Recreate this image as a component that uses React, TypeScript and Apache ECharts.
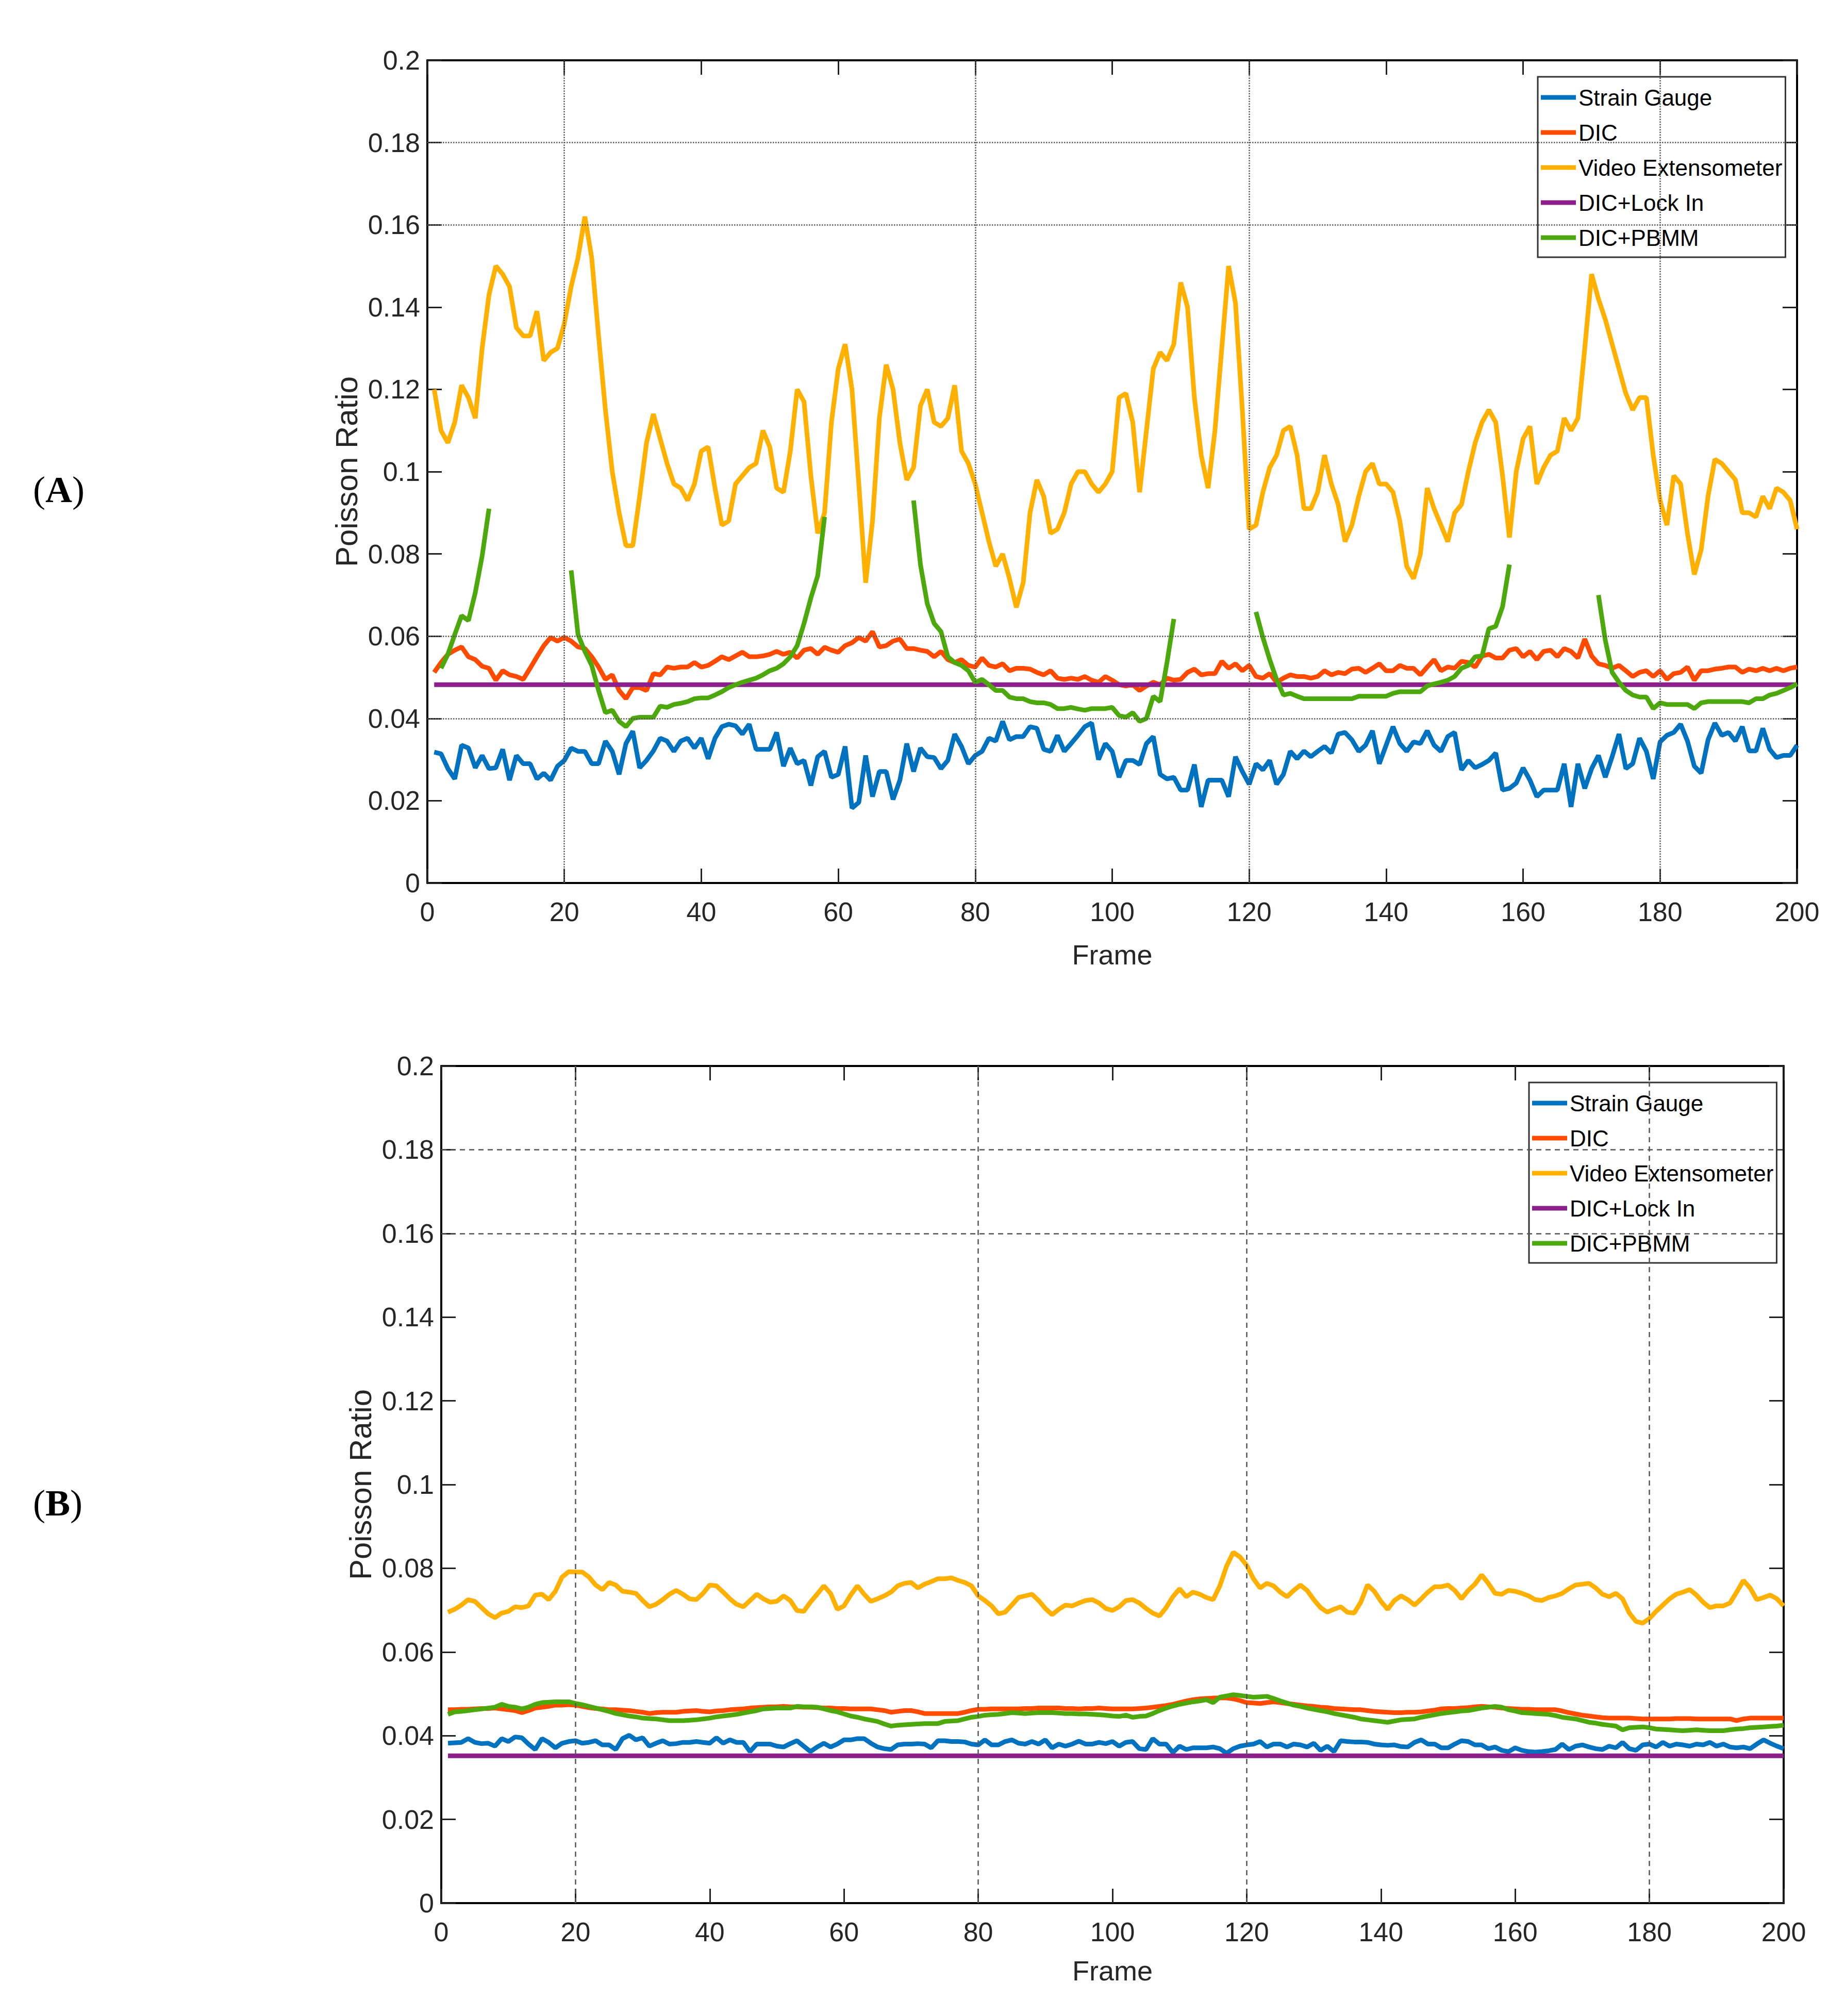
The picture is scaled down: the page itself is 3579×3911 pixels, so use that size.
import React, { useRef, useEffect } from 'react';
import * as echarts from 'echarts';

// ---- data (Poisson ratio per frame) ----
const SERIES_NAMES = ['Strain Gauge', 'DIC', 'Video Extensometer', 'DIC+Lock In', 'DIC+PBMM'];
const COLORS = ['#0072C0', '#FF4A00', '#FFB000', '#8B1F8B', '#4DA80E'];

const X_TICKS = { min: 0, max: 200, interval: 20 };
const Y_TICKS = { min: 0, max: 0.2, interval: 0.02 };

// gridlines that survived in the exported figure
const A_HGRID = [0.18, 0.16, 0.06, 0.04];
const A_VGRID = [20, 80, 120, 180];
const B_HGRID = [0.18, 0.16];
const B_VGRID = [20, 80, 120, 180];

// ---- panel A ----
const A_STRAIN = [
  .0318, .0314, .0278, .0253, .0335, .0328, .0280, .0310, .0278, .0280,
  .0325, .0250, .0310, .0290, .0290, .0253, .0267, .0250, .0284, .0298,
  .0328, .0320, .0320, .0290, .0290, .0345, .0320, .0264, .0339, .0369,
  .0280, .0298, .0321, .0352, .0345, .0320, .0345, .0352, .0328, .0352,
  .0302, .0352, .0380, .0386, .0382, .0362, .0386, .0325, .0325, .0325,
  .0366, .0284, .0328, .0290, .0298, .0237, .0307, .0320, .0257, .0264,
  .0332, .0182, .0196, .0310, .0210, .0271, .0271, .0203, .0250, .0339,
  .0271, .0328, .0307, .0305, .0278, .0298, .0362, .0332, .0290, .0310,
  .0320, .0352, .0345, .0393, .0348, .0356, .0356, .0380, .0376, .0325,
  .0320, .0359, .0320, .0339, .0359, .0380, .0389, .0300, .0339, .0320,
  .0257, .0298, .0298, .0288, .0339, .0356, .0264, .0253, .0257, .0226,
  .0226, .0288, .0185, .0250, .0250, .0250, .0210, .0307, .0271, .0240,
  .0290, .0275, .0298, .0240, .0264, .0320, .0302, .0321, .0307, .0320,
  .0332, .0316, .0362, .0366, .0348, .0320, .0335, .0370, .0290, .0335,
  .0380, .0339, .0320, .0343, .0339, .0370, .0335, .0320, .0356, .0366,
  .0275, .0298, .0280, .0288, .0298, .0316, .0226, .0230, .0243, .0280,
  .0250, .0210, .0226, .0226, .0226, .0290, .0185, .0290, .0230, .0278,
  .0310, .0257, .0307, .0362, .0278, .0290, .0352, .0320, .0253, .0343,
  .0359, .0366, .0386, .0345, .0284, .0267, .0348, .0389, .0359, .0366,
  .0345, .0380, .0321, .0321, .0376, .0325, .0305, .0310, .0310, .0335,
];
const A_DIC = [
  .0512, .0536, .0556, .0566, .0574, .0550, .0543, .0527, .0522, .0493,
  .0516, .0506, .0502, .0495, .0522, .0550, .0577, .0597, .0588, .0597,
  .0588, .0574, .0570, .0550, .0525, .0495, .0506, .0468, .0448, .0475,
  .0475, .0468, .0509, .0506, .0525, .0522, .0525, .0525, .0536, .0525,
  .0529, .0539, .0550, .0543, .0552, .0561, .0550, .0550, .0552, .0556,
  .0563, .0556, .0561, .0547, .0566, .0570, .0556, .0573, .0566, .0561,
  .0577, .0584, .0597, .0588, .0611, .0574, .0577, .0588, .0593, .0570,
  .0570, .0566, .0563, .0550, .0563, .0543, .0536, .0543, .0529, .0525,
  .0547, .0529, .0525, .0533, .0516, .0522, .0522, .0520, .0512, .0506,
  .0516, .0498, .0495, .0498, .0495, .0502, .0493, .0488, .0502, .0493,
  .0482, .0479, .0482, .0468, .0479, .0488, .0482, .0498, .0493, .0495,
  .0512, .0520, .0506, .0509, .0509, .0539, .0522, .0533, .0516, .0529,
  .0502, .0498, .0509, .0488, .0498, .0506, .0502, .0502, .0498, .0502,
  .0516, .0506, .0512, .0509, .0520, .0522, .0512, .0522, .0533, .0516,
  .0516, .0529, .0522, .0522, .0506, .0525, .0543, .0516, .0525, .0522,
  .0539, .0536, .0525, .0552, .0556, .0547, .0547, .0566, .0570, .0550,
  .0563, .0543, .0563, .0566, .0550, .0570, .0563, .0547, .0593, .0552,
  .0533, .0529, .0522, .0529, .0516, .0502, .0512, .0516, .0502, .0516,
  .0495, .0509, .0512, .0525, .0493, .0516, .0516, .0520, .0522, .0525,
  .0525, .0512, .0520, .0516, .0522, .0516, .0522, .0516, .0522, .0525,
];
const A_VIDEO = [
  .120, .110, .107, .112, .121, .118, .113, .130, .143, .150,
  .148, .145, .135, .133, .133, .139, .127, .129, .130, .136,
  .145, .152, .162, .152, .133, .115, .100, .090, .082, .082,
  .094, .107, .114, .108, .102, .097, .096, .093, .097, .105,
  .106, .096, .087, .088, .097, .099, .101, .102, .110, .106,
  .096, .095, .105, .120, .117, .099, .085, .090, .112, .125,
  .131, .120, .097, .073, .088, .113, .126, .120, .107, .098,
  .101, .116, .120, .112, .111, .113, .121, .105, .102, .097,
  .090, .083, .077, .080, .074, .067, .073, .090, .098, .094,
  .085, .086, .090, .097, .100, .100, .097, .095, .097, .100,
  .118, .119, .112, .095, .110, .125, .129, .127, .131, .146,
  .140, .118, .104, .096, .110, .130, .150, .141, .115, .086,
  .087, .095, .101, .104, .110, .111, .104, .091, .091, .095,
  .104, .097, .092, .083, .087, .094, .100, .102, .097, .097,
  .095, .088, .077, .074, .080, .096, .091, .087, .083, .090,
  .092, .100, .107, .112, .115, .112, .099, .084, .100, .108,
  .111, .097, .101, .104, .105, .113, .110, .113, .130, .148,
  .142, .137, .131, .125, .119, .115, .118, .118, .104, .093,
  .087, .099, .097, .085, .075, .081, .094, .103, .102, .100,
  .098, .090, .090, .089, .094, .091, .096, .095, .093, .086,
];
const A_LOCKIN = [[1, 0.0482], [200, 0.0482]];
const A_PBMM = [
  null, .0522, .0556, .0604, .0650, .0638, .0706, .0795, .0910, null,
  null, null, null, null, null, null, null, null, null, null,
  .0760, .0604, .0563, .0529, .0468, .0414, .0420, .0393, .0380, .0400,
  .0403, .0403, .0403, .0430, .0427, .0434, .0437, .0441, .0448, .0450,
  .0450, .0457, .0465, .0475, .0482, .0488, .0493, .0498, .0506, .0516,
  .0522, .0533, .0550, .0577, .0631, .0693, .0747, .0890, null, null,
  null, null, null, null, null, null, null, null, null, null,
  .0930, .0774, .0679, .0631, .0611, .0550, .0536, .0529, .0516, .0488,
  .0495, .0482, .0468, .0468, .0452, .0448, .0448, .0441, .0438, .0438,
  .0434, .0424, .0424, .0427, .0423, .0420, .0424, .0424, .0424, .0427,
  .0407, .0403, .0414, .0393, .0400, .0454, .0441, .0536, .0642, null,
  null, null, null, null, null, null, null, null, null, null,
  .0659, .0597, .0543, .0495, .0457, .0461, .0454, .0448, .0448, .0448,
  .0448, .0448, .0448, .0448, .0448, .0454, .0454, .0454, .0454, .0454,
  .0461, .0465, .0465, .0465, .0465, .0479, .0484, .0488, .0493, .0502,
  .0522, .0529, .0550, .0552, .0618, .0624, .0672, .0774, null, null,
  null, null, null, null, null, null, null, null, null, null,
  .0700, .0590, .0512, .0488, .0468, .0457, .0452, .0452, .0424, .0438,
  .0434, .0434, .0434, .0434, .0424, .0438, .0441, .0441, .0441, .0441,
  .0441, .0441, .0438, .0448, .0448, .0457, .0461, .0468, .0475, .0484,
];

// ---- panel B ----
const B_STRAIN = [
  .0382, .0383, .0384, .0393, .0384, .0381, .0382, .0375, .0393, .0386,
  .0397, .0395, .0380, .0367, .0393, .0384, .0371, .0382, .0386, .0388,
  .0382, .0384, .0388, .0378, .0378, .0367, .0393, .0401, .0390, .0395,
  .0375, .0382, .0388, .0380, .0381, .0384, .0384, .0386, .0384, .0382,
  .0395, .0382, .0390, .0384, .0384, .0362, .0380, .0380, .0380, .0375,
  .0373, .0381, .0388, .0375, .0362, .0373, .0382, .0373, .0380, .0390,
  .0390, .0393, .0393, .0382, .0373, .0369, .0367, .0378, .0380, .0380,
  .0381, .0380, .0371, .0388, .0388, .0386, .0386, .0385, .0380, .0378,
  .0390, .0378, .0378, .0386, .0390, .0382, .0380, .0386, .0380, .0390,
  .0371, .0380, .0375, .0380, .0387, .0380, .0380, .0384, .0381, .0386,
  .0375, .0384, .0386, .0369, .0367, .0393, .0380, .0380, .0360, .0375,
  .0367, .0371, .0371, .0371, .0373, .0369, .0358, .0369, .0375, .0378,
  .0380, .0386, .0373, .0380, .0380, .0373, .0380, .0378, .0373, .0382,
  .0365, .0375, .0362, .0388, .0386, .0385, .0385, .0384, .0380, .0378,
  .0377, .0378, .0374, .0373, .0384, .0390, .0380, .0380, .0371, .0371,
  .0380, .0388, .0386, .0378, .0378, .0369, .0373, .0365, .0362, .0371,
  .0365, .0362, .0361, .0362, .0364, .0367, .0380, .0367, .0375, .0378,
  .0373, .0369, .0367, .0375, .0371, .0384, .0369, .0365, .0378, .0380,
  .0373, .0384, .0375, .0380, .0378, .0375, .0380, .0378, .0384, .0375,
  .0380, .0373, .0371, .0373, .0369, .0380, .0390, .0382, .0375, .0369,
];
const B_DIC = [
  .0462, .0462, .0463, .0463, .0464, .0465, .0465, .0466, .0464, .0462,
  .0460, .0455, .0460, .0466, .0468, .0470, .0473, .0473, .0474, .0473,
  .0470, .0467, .0465, .0464, .0462, .0462, .0461, .0460, .0458, .0456,
  .0453, .0455, .0456, .0456, .0456, .0458, .0459, .0460, .0458, .0457,
  .0459, .0460, .0462, .0463, .0464, .0466, .0467, .0468, .0469, .0469,
  .0470, .0469, .0469, .0468, .0468, .0467, .0466, .0466, .0465, .0465,
  .0464, .0464, .0464, .0464, .0462, .0460, .0456, .0458, .0460, .0460,
  .0457, .0453, .0453, .0453, .0453, .0453, .0453, .0456, .0460, .0463,
  .0463, .0464, .0464, .0464, .0464, .0464, .0465, .0465, .0466, .0466,
  .0466, .0466, .0465, .0465, .0464, .0465, .0465, .0466, .0465, .0464,
  .0464, .0464, .0464, .0465, .0466, .0468, .0470, .0472, .0475, .0479,
  .0483, .0486, .0488, .0489, .0490, .0490, .0490, .0488, .0484, .0479,
  .0478, .0477, .0479, .0481, .0479, .0477, .0475, .0473, .0471, .0470,
  .0468, .0467, .0465, .0464, .0463, .0462, .0462, .0460, .0458, .0457,
  .0456, .0455, .0455, .0456, .0456, .0457, .0459, .0461, .0464, .0465,
  .0465, .0466, .0467, .0469, .0470, .0469, .0468, .0466, .0465, .0464,
  .0463, .0463, .0462, .0462, .0462, .0462, .0459, .0455, .0452, .0449,
  .0447, .0445, .0443, .0442, .0442, .0442, .0442, .0441, .0440, .0440,
  .0440, .0440, .0440, .0441, .0441, .0441, .0440, .0440, .0440, .0440,
  .0440, .0440, .0436, .0440, .0442, .0442, .0442, .0442, .0442, .0442,
];
const B_VIDEO = [
  .0695, .0702, .0712, .0725, .0721, .0706, .0691, .0682, .0693, .0697,
  .0708, .0706, .0710, .0736, .0738, .0725, .0745, .0779, .0792, .0791,
  .0791, .0779, .0760, .0749, .0766, .0760, .0745, .0743, .0740, .0723,
  .0708, .0714, .0725, .0738, .0747, .0738, .0727, .0725, .0740, .0760,
  .0758, .0743, .0727, .0714, .0708, .0723, .0738, .0727, .0719, .0721,
  .0734, .0723, .0699, .0697, .0719, .0738, .0758, .0740, .0702, .0710,
  .0736, .0758, .0738, .0721, .0727, .0734, .0743, .0758, .0764, .0766,
  .0753, .0762, .0768, .0775, .0775, .0777, .0771, .0766, .0758, .0734,
  .0723, .0710, .0691, .0695, .0712, .0730, .0734, .0738, .0723, .0704,
  .0689, .0702, .0712, .0710, .0717, .0723, .0725, .0717, .0704, .0699,
  .0708, .0723, .0725, .0717, .0704, .0693, .0686, .0706, .0732, .0751,
  .0732, .0743, .0738, .0730, .0725, .0758, .0805, .0838, .0827, .0807,
  .0775, .0753, .0764, .0758, .0743, .0732, .0747, .0760, .0747, .0725,
  .0706, .0695, .0702, .0708, .0695, .0693, .0719, .0760, .0745, .0721,
  .0702, .0723, .0734, .0725, .0712, .0727, .0743, .0756, .0756, .0760,
  .0747, .0727, .0747, .0762, .0784, .0764, .0740, .0738, .0747, .0745,
  .0740, .0734, .0725, .0723, .0730, .0734, .0740, .0751, .0760, .0762,
  .0764, .0753, .0738, .0732, .0740, .0727, .0693, .0673, .0669, .0680,
  .0697, .0712, .0727, .0738, .0743, .0749, .0736, .0719, .0706, .0710,
  .0710, .0717, .0743, .0771, .0753, .0725, .0730, .0736, .0727, .0710,
];
const B_LOCKIN = [[1, 0.0352], [200, 0.0352]];
const B_PBMM = [
  .0451, .0457, .0458, .0460, .0462, .0464, .0466, .0468, .0475, .0470,
  .0468, .0464, .0468, .0475, .0479, .0480, .0481, .0481, .0481, .0477,
  .0474, .0470, .0466, .0462, .0458, .0453, .0450, .0447, .0445, .0442,
  .0441, .0440, .0438, .0436, .0436, .0436, .0437, .0438, .0440, .0442,
  .0445, .0447, .0449, .0451, .0454, .0457, .0460, .0464, .0465, .0466,
  .0466, .0466, .0470, .0469, .0469, .0468, .0464, .0460, .0457, .0452,
  .0447, .0444, .0440, .0437, .0434, .0428, .0423, .0425, .0426, .0427,
  .0428, .0429, .0429, .0429, .0434, .0435, .0436, .0440, .0444, .0446,
  .0449, .0450, .0451, .0453, .0455, .0454, .0453, .0454, .0455, .0455,
  .0455, .0454, .0453, .0453, .0452, .0452, .0451, .0450, .0449, .0447,
  .0446, .0449, .0444, .0446, .0447, .0453, .0460, .0466, .0471, .0475,
  .0478, .0481, .0483, .0486, .0479, .0492, .0495, .0498, .0496, .0494,
  .0492, .0493, .0494, .0489, .0483, .0478, .0473, .0470, .0466, .0463,
  .0460, .0457, .0453, .0450, .0447, .0444, .0440, .0438, .0436, .0434,
  .0432, .0435, .0438, .0439, .0440, .0444, .0447, .0450, .0453, .0455,
  .0457, .0459, .0460, .0463, .0466, .0468, .0470, .0468, .0462, .0459,
  .0455, .0454, .0453, .0452, .0451, .0448, .0444, .0442, .0440, .0436,
  .0432, .0430, .0427, .0425, .0423, .0414, .0419, .0420, .0421, .0419,
  .0416, .0415, .0414, .0413, .0412, .0413, .0414, .0413, .0412, .0412,
  .0412, .0414, .0416, .0417, .0419, .0420, .0421, .0422, .0423, .0425,
];

const SANS = "'Liberation Sans', Arial, sans-serif";
const SERIF = "'Liberation Serif', 'Times New Roman', serif";

const withFrames = (vals: (number | null)[]) => vals.map((v, i) => [i + 1, v]);

const App: React.FC = () => {
  const chartRef = useRef<HTMLDivElement>(null);

  useEffect(() => {
    if (!chartRef.current) return;
    const chart = echarts.init(chartRef.current, undefined, { renderer: 'svg' });

    const panels = [
      {
        grid: { left: 821, top: 109, width: 2657, height: 1596 },
        legend: { left: 2975, top: 141 },
        nameGapY: 106, nameGapX: 112,
        series: [A_STRAIN, A_DIC, A_VIDEO, A_LOCKIN, A_PBMM],
        hGrid: A_HGRID, vGrid: A_VGRID, gridType: 'dotted',
      },
      {
        grid: { left: 848, top: 2060, width: 2604, height: 1624 },
        legend: { left: 2958, top: 2092 },
        nameGapY: 100, nameGapX: 104,
        series: [B_STRAIN, B_DIC, B_VIDEO, B_LOCKIN, B_PBMM],
        hGrid: B_HGRID, vGrid: B_VGRID, gridType: [10, 8],
      },
    ];

    const axisLine = { show: true, onZero: false, lineStyle: { color: '#000', width: 4 } };
    const axisTick = { show: true, inside: true, length: 28, lineStyle: { color: '#222', width: 3 } };

    const xAxis: any[] = [];
    const yAxis: any[] = [];
    const series: any[] = [];
    const legend: any[] = [];

    panels.forEach((p, gi) => {
      xAxis.push({
        type: 'value', gridIndex: gi, ...X_TICKS, position: 'bottom',
        axisLine, axisTick, splitLine: { show: false },
        axisLabel: { fontSize: 52, fontFamily: SANS, color: '#262626', margin: 30 },
        name: 'Frame', nameLocation: 'middle', nameGap: p.nameGapX,
        nameTextStyle: { fontSize: 54, fontFamily: SANS, color: '#262626' },
      });
      xAxis.push({
        type: 'value', gridIndex: gi, ...X_TICKS, position: 'top',
        axisLine, axisTick, splitLine: { show: false }, axisLabel: { show: false },
      });
      yAxis.push({
        type: 'value', gridIndex: gi, ...Y_TICKS, position: 'left',
        axisLine, axisTick, splitLine: { show: false },
        axisLabel: { fontSize: 52, fontFamily: SANS, color: '#262626', margin: 14 },
        name: 'Poisson Ratio', nameLocation: 'middle', nameGap: p.nameGapY,
        nameTextStyle: { fontSize: 60, fontFamily: SANS, color: '#262626' },
      });
      yAxis.push({
        type: 'value', gridIndex: gi, ...Y_TICKS, position: 'right',
        axisLine, axisTick, splitLine: { show: false }, axisLabel: { show: false },
      });

      // selective gridlines
      series.push({
        type: 'line', name: 'grid' + gi, xAxisIndex: gi * 2, yAxisIndex: gi * 2,
        data: [], silent: true, z: 1,
        markLine: {
          silent: true, symbol: ['none', 'none'], label: { show: false },
          lineStyle: { color: '#555', width: 2.5, type: p.gridType },
          data: [
            ...p.hGrid.map((v) => ({ yAxis: v })),
            ...p.vGrid.map((v) => ({ xAxis: v })),
          ],
        },
      });

      p.series.forEach((vals, si) => {
        const data = si === 3 ? vals : withFrames(vals as (number | null)[]);
        series.push({
          type: 'line', name: SERIES_NAMES[si], xAxisIndex: gi * 2, yAxisIndex: gi * 2,
          data, showSymbol: false, connectNulls: false, color: COLORS[si], z: 3,
          lineStyle: { width: 9, color: COLORS[si] },
        });
      });

      legend.push({
        orient: 'vertical', left: p.legend.left, top: p.legend.top,
        data: SERIES_NAMES, icon: 'rect', itemWidth: 68, itemHeight: 9, itemGap: 24,
        padding: [18, 6, 16, 6], borderColor: '#333', borderWidth: 3, backgroundColor: '#fff',
        selectedMode: false,
        textStyle: { fontSize: 44, fontFamily: SANS, color: '#000' },
      });
    });

    const graphic = ['A', 'B'].map((letter, i) => ({
      type: 'text', left: 56, top: i === 0 ? 906 : 2872,
      style: {
        text: `{p|(}{b|${letter}}{p|)}`,
        rich: {
          p: { fontSize: 72, fontFamily: SERIF, fill: '#000' },
          b: { fontSize: 72, fontWeight: 'bold', fontFamily: SERIF, fill: '#000' },
        },
      },
    }));

    chart.setOption({
      animation: false,
      backgroundColor: '#fff',
      grid: panels.map((p) => ({ ...p.grid, outerBoundsMode: 'none' })),
      xAxis, yAxis, series, legend, graphic,
    });

    return () => { chart.dispose(); };
  }, []);

  return <div ref={chartRef} style={{ width: 3563, height: 3895 }} />;
};

export default App;
